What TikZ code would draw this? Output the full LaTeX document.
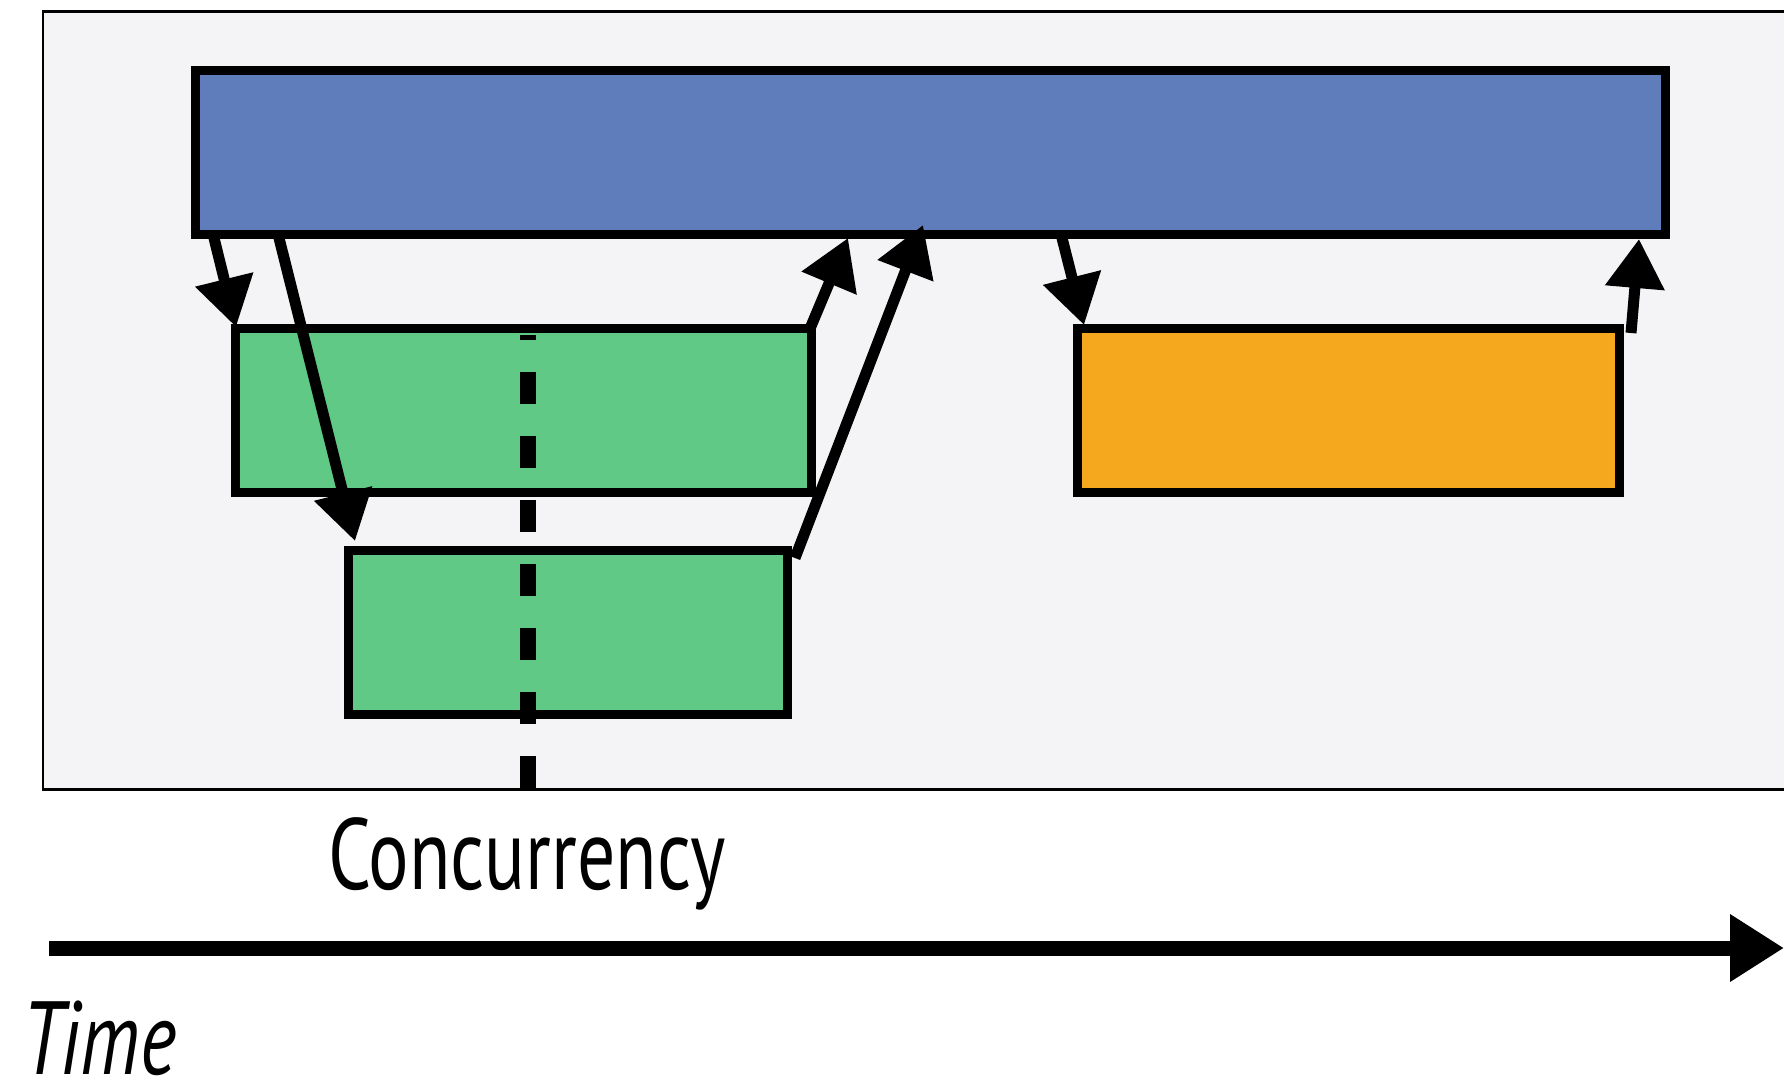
\documentclass[tikz,border=0pt]{standalone}
\usepackage{fontspec}
\usetikzlibrary{arrows.meta}
\newfontfamily\condfont[FakeStretch=0.75]{PT Sans}
\definecolor{bgpanel}{HTML}{F4F4F6}
\definecolor{bluebar}{HTML}{5E7DBA}
\definecolor{greenbar}{HTML}{5FC985}
\definecolor{orangebar}{HTML}{F5A81D}
\begin{document}
\begin{tikzpicture}[x=1pt,y=-1pt,
  box/.style={draw=black, line width=9pt, inner sep=0pt, outer sep=0pt, anchor=center},
  callarrow/.style={line width=11pt, -{Triangle[length=49pt,width=57pt]}},
  timearrow/.style={line width=15pt, -{Triangle[length=54pt,width=64pt]}},
  dashline/.style={line width=16pt, dash pattern=on 32pt off 32pt},
  label/.style={anchor=base west, inner sep=0pt, outer sep=0pt}
]
\clip (0,0) rectangle (1784,1082);
\fill[white] (0,0) rectangle (1784,1082);
% panel
\draw[fill=bgpanel, line width=2.5pt] (43,11.5) rectangle (1820,789.5);
% boxes
\node[box, fill=bluebar, minimum width=1470pt, minimum height=164pt] (blue) at (930.5,152.5) {};
\node[box, fill=greenbar, minimum width=576pt, minimum height=164pt] (green1) at (523.5,410.5) {};
\node[box, fill=greenbar, minimum width=439.5pt, minimum height=164pt] (green2) at (567.75,632.5) {};
\node[box, fill=orangebar, minimum width=542pt, minimum height=164pt] (orange) at (1348.5,410.5) {};
% arrow end points
\coordinate (a1s) at (213,234);  \coordinate (a1e) at (236,327);
\coordinate (a2s) at (278,234);  \coordinate (a2e) at (355,541);
\coordinate (a3s) at (809,331);  \coordinate (a3e) at (848,238);
\coordinate (a4s) at (795,558);  \coordinate (a4e) at (923,225);
\coordinate (a5s) at (1061,234); \coordinate (a5e) at (1084,325);
\coordinate (a6s) at (1631,333); \coordinate (a6e) at (1639,239);
\draw[callarrow] (a1s) -- (a1e);
\draw[callarrow] (a2s) -- (a2e);
\draw[callarrow] (a3s) -- (a3e);
\draw[callarrow] (a4s) -- (a4e);
\draw[callarrow] (a5s) -- (a5e);
\draw[callarrow] (a6s) -- (a6e);
% concurrency dashed line
\coordinate (d0) at (528,788);
\coordinate (d1) at (528,335);
\draw[dashline] (d0) -- (d1);
% labels
\node[label, font=\condfont\fontsize{101}{101}\selectfont] (conc) at (328,889) {Concurrency};
\coordinate (t0) at (49,948);
\coordinate (t1) at (1784,948);
\draw[timearrow] (t0) -- (t1);
\node[label, font=\condfont\itshape\fontsize{104}{104}\selectfont] (time) at (22,1074) {Time};
\end{tikzpicture}
\end{document}
